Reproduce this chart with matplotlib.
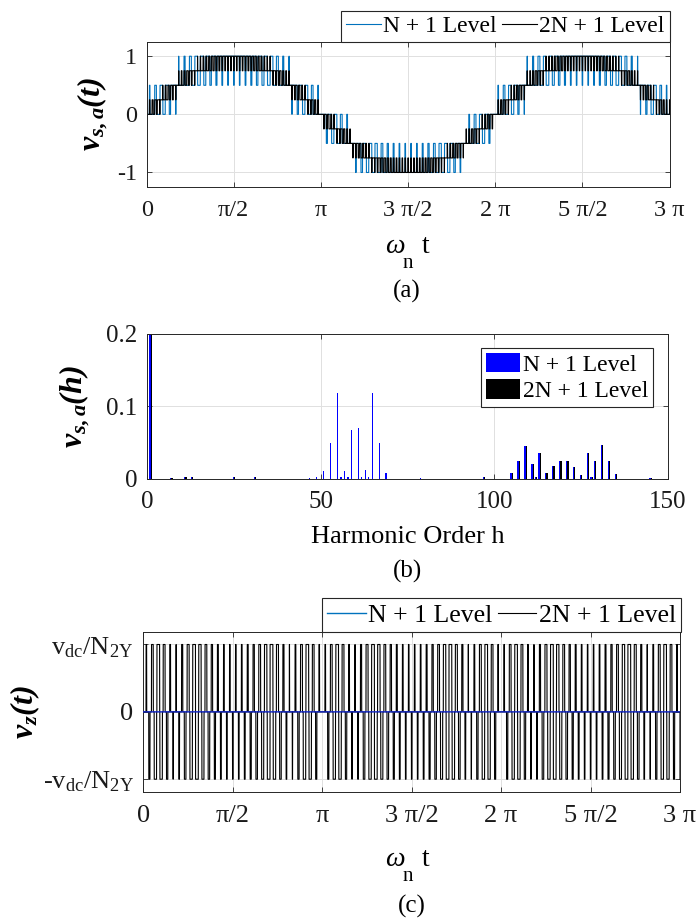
import numpy as np
import matplotlib
matplotlib.use('Agg')
import matplotlib.pyplot as plt

plt.rcParams['font.family'] = ['Liberation Serif', 'DejaVu Serif']
plt.rcParams['mathtext.fontset'] = 'custom'
plt.rcParams['mathtext.rm'] = 'Liberation Serif'
plt.rcParams['mathtext.it'] = 'Liberation Serif:italic'
plt.rcParams['mathtext.bf'] = 'Liberation Serif:bold:italic'
plt.rcParams['axes.unicode_minus'] = False

W, H = 697, 923

# modulation settings (a) and (c)
mod_index = 0.95          # peak of the reference (staircase tops out just below 1)
carrier_ratio = 60        # pulses per fundamental cycle (sidebands sit around h = 60)
level_step = 0.5          # N + 1 level step, 2N + 1 averages two of them
carrier_shift = [0.0, 0.5]  # second carrier shifted half a period
theta_end = 3 * np.pi

x_ticks_pi = [0, 0.5, 1, 1.5, 2, 2.5, 3]
x_tick_labels = ['0', 'π/2', 'π', '3 π/2', '2 π', '5 π/2', '3 π']

# panel (b) harmonic spectrum
blue_h = [1, 7, 11, 13, 25, 31, 47, 49, 51, 53, 55, 56, 57, 58, 59, 61, 62, 63, 64,
          65, 67, 69, 79, 97, 105, 107, 109, 111, 112, 113, 115, 117, 119, 121,
          123, 125, 127, 128, 129, 131, 133, 135, 145]
blue_mag = [0.95, 0.001, 0.002, 0.002, 0.002, 0.002, 0.001, 0.002, 0.010, 0.050,
            0.118, 0.002, 0.010, 0.002, 0.068, 0.070, 0.002, 0.012, 0.002,
            0.119, 0.050, 0.0075, 0.0015, 0.002, 0.008, 0.024, 0.045, 0.021, 0.002,
            0.036, 0.008, 0.017, 0.025, 0.025, 0.016, 0.0055, 0.035, 0.002, 0.025,
            0.046, 0.025, 0.006, 0.0015]
black_h = [1, 7, 11, 13, 25, 31, 97, 105, 107, 109, 111, 112, 113, 115, 117, 119,
           121, 123, 125, 127, 128, 129, 131, 133, 135, 145]
black_mag = [0.95, 0.001, 0.002, 0.002, 0.002, 0.002, 0.002, 0.008, 0.024, 0.045,
             0.021, 0.002, 0.036, 0.008, 0.017, 0.025, 0.025, 0.016, 0.0055, 0.035,
             0.002, 0.025, 0.046, 0.025, 0.006, 0.0015]

blue_line = '#0072BD'
axis_col = '#262626'

theta = np.linspace(0, theta_end, 40001)
ref = mod_index * np.sin(theta)


def level_pwm(shift):
    ph = (theta * carrier_ratio / (2 * np.pi) + shift) % 1.0
    carrier = np.abs(2 * ph - 1)
    u = ref / level_step
    k = np.floor(u)
    return level_step * (k + (u - k > carrier))


v_a = level_pwm(carrier_shift[0])
v_b = level_pwm(carrier_shift[1])
v_n1 = v_a
v_2n1 = (v_a + v_b) / 2
vz_n1 = np.zeros_like(theta)
vz_2n1 = (v_a - v_b) / level_step

fig = plt.figure(figsize=(W / 100, H / 100), dpi=100)


def px_axes(l, t, r, b):
    return fig.add_axes([l / W, 1 - b / H, (r - l) / W, (b - t) / H])


def style(ax, size):
    ax.grid(True, color='#e0e0e0', lw=0.7)
    ax.set_axisbelow(True)
    ax.tick_params(direction='in', length=3.5, width=0.6, top=True, right=True,
                   labelsize=size, color=axis_col, labelcolor='#1a1a1a')
    ax.tick_params(axis='x', pad=9)
    ax.tick_params(axis='y', pad=7)
    for s in ax.spines.values():
        s.set_color(axis_col)
        s.set_linewidth(0.7)


def ftext(x, y, s, size, **kw):
    fig.text(x / W, 1 - y / H, s, fontsize=size, ha='center', va='baseline', **kw)


def omega_label(base_y):
    ftext(395, base_y, 'ω', 20, style='italic')
    ftext(408, base_y + 15, 'n', 15)
    ftext(425.5, base_y, 't', 20)


# (a)
ax1 = px_axes(146.7, 41.7, 669.5, 187)
style(ax1, 17.5)
ax1.plot(theta, v_n1, color=blue_line, lw=0.8, label='N + 1 Level')
ax1.plot(theta, v_2n1, color='k', lw=0.8, label='2N + 1 Level')
ax1.set_xlim(0, theta_end)
ax1.set_ylim(-1.25, 1.25)
ax1.set_xticks(np.array(x_ticks_pi) * np.pi, x_tick_labels)
ax1.set_yticks([-1, 0, 1], ['-1', '0', '1'])
ax1.set_ylabel(r'$\mathbf{v_{s,a}(t)}$', fontsize=23)
ax1.yaxis.set_label_coords(-0.07, 0.5)
ax1.legend(loc='lower right', bbox_to_anchor=(1.0, 1.0), ncol=2, fontsize=17,
           frameon=True, fancybox=False, framealpha=1, edgecolor=axis_col,
           borderaxespad=0, handlelength=1.5, handletextpad=0.1,
           columnspacing=0.2, borderpad=0.2).get_frame().set_linewidth(0.8)
omega_label(253)
ftext(407, 298, '(a)', 18)

# (b)
ax2 = px_axes(147.1, 334, 668, 478.7)
style(ax2, 18)
ax2.bar(np.array(blue_h) - 0.18, blue_mag, width=0.36, color='#0000FF', lw=0,
        label='N + 1 Level')
ax2.bar(np.array(black_h) + 0.18, black_mag, width=0.36, color='k', lw=0,
        label='2N + 1 Level')
ax2.set_xlim(0, 150)
ax2.set_ylim(0, 0.2)
ax2.set_xticks([0, 50, 100, 150])
ax2.set_yticks([0, 0.1, 0.2], ['0', '0.1', '0.2'])
ax2.set_ylabel(r'$\mathbf{v_{s,a}(h)}$', fontsize=23)
ax2.yaxis.set_label_coords(-0.106, 0.5)
ax2.legend(loc='upper right', bbox_to_anchor=(0.971, 0.903), fontsize=17,
           frameon=True, fancybox=False, framealpha=1, edgecolor=axis_col,
           borderaxespad=0, handlelength=1.45, handleheight=0.9,
           labelspacing=0.15, handletextpad=0.1, borderpad=0.2).get_frame().set_linewidth(0.8)
ftext(407.5, 543, 'Harmonic Order h', 19)
ftext(407.5, 578, '(b)', 18)

# (c)
ax3 = px_axes(143.3, 631.7, 680, 792)
style(ax3, 19)
zero_line, = ax3.plot(theta, vz_n1, color=blue_line, lw=1.0, label='N + 1 Level', zorder=3)
ax3.plot(theta, vz_2n1, color='k', lw=0.8, label='2N + 1 Level', zorder=2)
ax3.set_xlim(0, theta_end)
ax3.set_ylim(-1.19, 1.19)
ax3.set_xticks(np.array(x_ticks_pi) * np.pi, x_tick_labels)
ax3.set_yticks([-1, 0, 1], [r'-$\mathrm{v_{dc}/N_{2Y}}$', '0', r'$\mathrm{v_{dc}/N_{2Y}}$'])
ax3.set_ylabel(r'$\mathbf{v_{z}(t)}$', fontsize=23)
ax3.yaxis.set_label_coords(-0.189, 0.5)
ax3.legend(loc='lower right', bbox_to_anchor=(1.002, 1.0), ncol=2, fontsize=18.5,
           frameon=True, fancybox=False, framealpha=1, edgecolor=axis_col,
           borderaxespad=0, handlelength=1.5, handletextpad=0.1,
           columnspacing=0.2, borderpad=0.2).get_frame().set_linewidth(0.8)
# the trace at zero shows darker where it sits over the black switching
zero_line.set_color('#1428c8')
omega_label(866)
ftext(412, 913, '(c)', 18)

fig.savefig('out.png', dpi=100)
